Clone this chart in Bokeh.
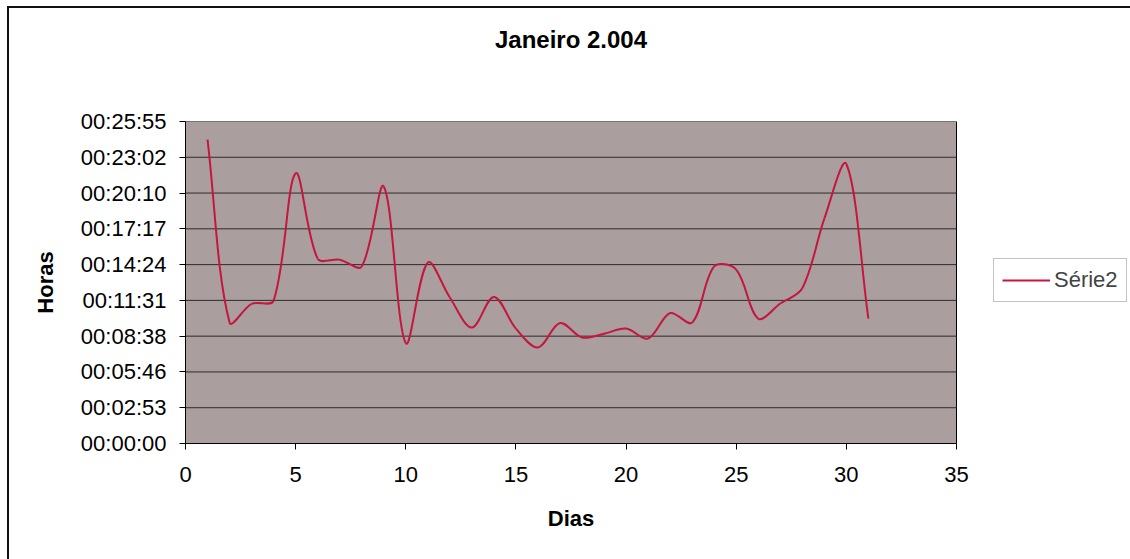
import numpy as np
from bokeh.plotting import figure
from bokeh.models import (Range1d, FixedTicker, CustomJSTickFormatter, Title,
                          Legend, LegendItem, ColumnDataSource, InlineStyleSheet)
from bokeh.embed import file_html
from bokeh.resources import INLINE

# Daily durations for January 2004
dias = list(range(1, 32))
duracao = [
    "00:24:28", "00:09:45", "00:11:14", "00:11:30", "00:21:45",
    "00:14:53", "00:14:48", "00:14:15", "00:20:41", "00:08:05",
    "00:14:34", "00:11:45", "00:09:20", "00:11:48", "00:09:15",
    "00:07:44", "00:09:42", "00:08:32", "00:08:50", "00:09:15",
    "00:08:27", "00:10:30", "00:09:44", "00:14:15", "00:14:00",
    "00:10:03", "00:11:16", "00:12:30", "00:18:06", "00:22:30",
    "00:10:03",
]

x_ticks = [0, 5, 10, 15, 20, 25, 30, 35]
y_ticks = [0, 172.8, 345.6, 518.4, 691.2, 864.0, 1036.8, 1209.6, 1382.4, 1555.2]
y_tick_labels = ["00:00:00", "00:02:53", "00:05:46", "00:08:38", "00:11:31",
                 "00:14:24", "00:17:17", "00:20:10", "00:23:02", "00:25:55"]

titulo = "Janeiro 2.004"
eixo_x = "Dias"
eixo_y = "Horas"
serie = "Série2"

# Page geometry (pixels)
W, H = 1130, 559
LEFT, TOP, BOTTOM = 185, 121, 116
AREA_W = 771                     # width of the grey plotting area
AREA_H = H - TOP - BOTTOM
FRAME_W = W - LEFT               # frame runs to the right edge (legend lives there)
FONT = "Liberation Sans"
PLOT_BG = "#ab9e9f"
LINE = "#c5163d"


def to_seconds(s):
    h, m, sec = (int(v) for v in s.split(":"))
    return h * 3600 + m * 60 + sec


x = np.array(dias, dtype=float)
y = np.array([to_seconds(s) for s in duracao], dtype=float)

# pixels per data unit inside the plotting area
sx = AREA_W / (x_ticks[-1] - x_ticks[0])
sy = AREA_H / (y_ticks[-1] - y_ticks[0])

# Smoothed line: cubic Bezier segments whose handles scale with the
# on-screen length of the neighbouring segments.
P = np.column_stack([x * sx, y * sy])
prev = np.vstack([P[:1], P[:-1]])
nxt = np.vstack([P[1:], P[-1:]])
T = nxt - prev
d1 = np.linalg.norm(P - prev, axis=1)
d2 = np.linalg.norm(nxt - P, axis=1)
tot = d1 + d2
c_out = P + T * (d2 / tot)[:, None] / 3
c_in = P - T * (d1 / tot)[:, None] / 3
seg = ColumnDataSource(dict(
    x0=x[:-1], y0=y[:-1], x1=x[1:], y1=y[1:],
    cx0=c_out[:-1, 0] / sx, cy0=c_out[:-1, 1] / sy,
    cx1=c_in[1:, 0] / sx, cy1=c_in[1:, 1] / sy,
))

# Thin frame round the whole chart (left and top edges are on the page)
border_css = InlineStyleSheet(css="""
:host { position: relative; }
:host::after {
  content: ""; position: absolute; left: 7px; top: 6px;
  width: 1123px; height: 553px; box-sizing: border-box;
  border-left: 2px solid #111; border-top: 2px solid #111;
  border-right: none; border-bottom: none;
  pointer-events: none;
}
""")

p = figure(width=W, height=H, output_backend="svg", toolbar_location=None,
           title=None,
           x_range=Range1d(x_ticks[0], x_ticks[0] + FRAME_W / sx),
           y_range=Range1d(y_ticks[0], y_ticks[-1]),
           min_border_left=LEFT, min_border_right=0,
           min_border_top=TOP, min_border_bottom=BOTTOM,
           background_fill_color="white", border_fill_color="white",
           stylesheets=[border_css])
p.outline_line_color = None
p.xgrid.visible = False
p.ygrid.visible = False

# Grey plotting area with its horizontal grid lines
p.quad(left=x_ticks[0], right=x_ticks[-1], bottom=y_ticks[0], top=y_ticks[-1],
       fill_color=PLOT_BG, line_color="black", line_width=1)
inner = y_ticks[1:-1]
p.segment(x0=[x_ticks[0]] * len(inner), x1=[x_ticks[-1]] * len(inner),
          y0=inner, y1=inner, line_color="#2b2b2b", line_width=1)

r = p.bezier(x0="x0", y0="y0", x1="x1", y1="y1", cx0="cx0", cy0="cy0",
             cx1="cx1", cy1="cy1", source=seg, line_color=LINE, line_width=2)

# Axes
p.xaxis.ticker = FixedTicker(ticks=x_ticks)
p.yaxis.ticker = FixedTicker(ticks=y_ticks)
p.xaxis.bounds = (x_ticks[0], x_ticks[-1])
p.yaxis.formatter = CustomJSTickFormatter(
    args=dict(pos=y_ticks, txt=y_tick_labels),
    code="""
    let best = 0;
    for (let k = 0; k < pos.length; k++) {
        if (Math.abs(pos[k] - tick) < Math.abs(pos[best] - tick)) best = k;
    }
    return txt[best];
    """)
for ax in (p.xaxis, p.yaxis):
    ax.axis_line_color = "black"
    ax.axis_line_width = 1
    ax.major_tick_line_color = "black"
    ax.major_tick_out = 6
    ax.major_tick_in = 0
    ax.minor_tick_line_color = None
    ax.major_label_text_font = FONT
    ax.major_label_text_font_size = "22px"
    ax.major_label_text_color = "black"
    ax.axis_label_text_font = FONT
    ax.axis_label_text_font_size = "22px"
    ax.axis_label_text_font_style = "bold"
    ax.axis_label_text_color = "black"

p.yaxis.axis_label = eixo_y
p.xaxis.major_label_standoff = 17
p.yaxis.major_label_standoff = 13
p.yaxis.axis_label_standoff = 20

# Text widths (bold Arial metrics) used to centre titles over the plotting area
title_w = 6.337 * 24
xlabel_w = 2.112 * 22

# X axis title, below the tick labels
p.add_layout(Title(text=eixo_x, align="left", offset=AREA_W / 2 - xlabel_w / 2,
                   vertical_align="top", standoff=42,
                   text_font=FONT, text_font_size="22px", text_font_style="bold",
                   text_color="black"), "below")

# Chart title: a blank spacer title keeps it near the top of the page
p.add_layout(Title(text=" ", text_font_size="10px", standoff=56), "above")
p.add_layout(Title(text=titulo, align="left", offset=AREA_W / 2 - title_w / 2,
                   standoff=0, text_font=FONT, text_font_size="24px",
                   text_font_style="bold", text_color="black"), "above")

legend = Legend(items=[LegendItem(label=serie, renderers=[r])],
                location=(AREA_W + 37, 141), padding=8, margin=0, spacing=0,
                glyph_width=48, glyph_height=20, label_standoff=4,
                label_text_font=FONT, label_text_font_size="22px",
                border_line_color="#8a8a8a", border_line_width=1,
                background_fill_color="white", background_fill_alpha=1)
p.add_layout(legend)

open("out.html", "w").write(file_html(p, INLINE))
